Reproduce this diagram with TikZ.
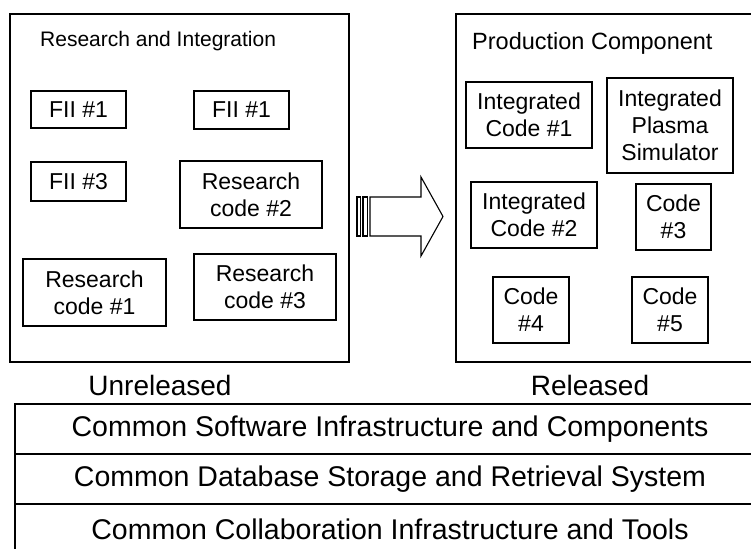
\documentclass[tikz,border=0pt]{standalone}
\usepackage{fontspec}
\setmainfont{Liberation Sans}
\begin{document}
\begin{tikzpicture}[x=1pt,y=-1pt,
  frame/.style={draw, line width=1.5pt},
  box/.style={draw, line width=1.2pt, inner sep=0pt, align=center,
    font=\fontsize{23}{27}\selectfont},
  layer/.style={draw, line width=1.3pt, inner sep=0pt, minimum width=750pt, minimum height=50pt,
    font=\fontsize{28.5}{32}\selectfont},
  lbl/.style={inner sep=0pt, font=\fontsize{28}{32}\selectfont}]
\useasboundingbox (0,0) rectangle (751,548);
\clip (0,0) rectangle (751,548);
% frames
\node[frame, minimum width=339pt, minimum height=348pt, inner sep=0pt] (left) at (179.5,188) {};
\node[frame, minimum width=309pt, minimum height=348pt, inner sep=0pt] (right) at (610.5,188) {};
\node[anchor=base west, inner sep=0pt, font=\fontsize{21}{25}\selectfont] (lt) at (40,47) {Research and Integration};
\node[anchor=base west, inner sep=0pt, font=\fontsize{23.5}{27}\selectfont] (rt) at (472,50) {Production Component};
% left boxes
\node[box, minimum width=95pt, minimum height=37pt] (f1) at (78.5,109.5) {FII \#1};
\node[box, minimum width=95pt, minimum height=38pt] (f2) at (241.5,110) {FII \#1};
\node[box, minimum width=95pt, minimum height=39pt] (f3) at (78.5,181.5) {FII \#3};
\node[box, minimum width=142pt, minimum height=67pt] (r2) at (251,194.5) {Research\\code \#2};
\node[box, minimum width=143pt, minimum height=67pt] (r1) at (94.5,292.5) {Research\\code \#1};
\node[box, minimum width=142pt, minimum height=66pt] (r3) at (265,287) {Research\\code \#3};
% right boxes
\node[box, minimum width=126pt, minimum height=66pt] (ic1) at (529,115) {Integrated\\Code \#1};
\node[box, minimum width=126pt, minimum height=95pt] (ips) at (670,125.5) {Integrated\\Plasma\\Simulator};
\node[box, minimum width=126pt, minimum height=66pt] (ic2) at (534,215) {Integrated\\Code \#2};
\node[box, minimum width=75pt, minimum height=66pt] (c3) at (673.5,217) {Code\\\#3};
\node[box, minimum width=76pt, minimum height=66pt] (c4) at (531,310) {Code\\\#4};
\node[box, minimum width=76pt, minimum height=66pt] (c5) at (670,310) {Code\\\#5};
% striped arrow
\draw[line width=1.1pt] (357,197) rectangle (360.5,236);
\draw[line width=1.1pt] (363,197) rectangle (367.5,236);
\draw[line width=1.1pt] (370,197) -- (421,197) -- (421,177) -- (443,216.5) -- (421,256) -- (421,236) -- (370,236) -- cycle;
% labels
\node[lbl] (unrel) at (160,385) {Unreleased};
\node[lbl] (rel) at (590,385) {Released};
% layers
\node[layer] (l1) at (390,429) {\raisebox{-2pt}{Common Software Infrastructure and Components}};
\node[layer] (l2) at (390,479) {\raisebox{-2pt}{Common Database Storage and Retrieval System}};
\node[layer] (l3) at (390,529) {Common Collaboration Infrastructure and Tools};
\end{tikzpicture}
\end{document}
